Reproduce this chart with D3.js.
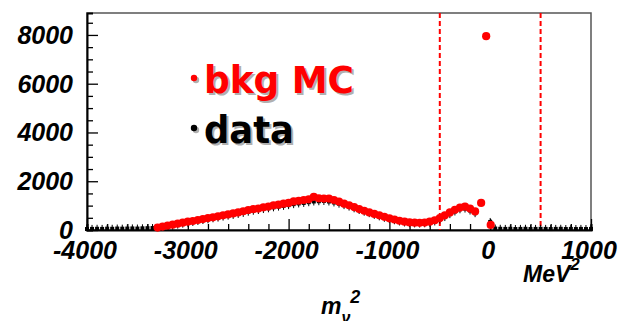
<!DOCTYPE html>
<html>
<head>
<meta charset="utf-8">
<script src="https://cdn.jsdelivr.net/npm/d3@7"></script>
<style>
  html, body { margin: 0; padding: 0; background: #fff; overflow: hidden; }
  svg { display: block; }
</style>
</head>
<body>
<svg id="chart" width="623" height="321"></svg>
<script>
// Missing-mass-squared distribution, bin width 50 MeV^2
const binStep = 50;

// Background Monte Carlo (red), bins from -3300 to -150
const mcStart = -3300;
const mcValues = [
  100, 140, 180, 220, 260, 300, 340, 370, 410, 450,
  490, 520, 560, 600, 640, 680, 720, 770, 820, 860,
  880, 930, 960, 1010, 1040, 1080, 1110, 1170, 1200, 1230,
  1260, 1360, 1300, 1290, 1290, 1230, 1160, 1080, 1010, 940,
  860, 790, 720, 660, 600, 540, 480, 430, 380, 340,
  310, 300, 295, 305, 340, 400, 490, 600, 720, 830,
  920, 960, 880, 760
];
// Isolated MC bins near the signal region
const mcPeakX = [-90, -40, 5];
const mcPeakY = [1110, 7950, 210];

// Data (black), bins from -4000 to -150
const dataStart = -4000;
const dataValues = [
  40, 45, 50, 45, 55, 50, 60, 55, 60, 65, 60, 70, 75, 80,
  70, 100, 140, 180, 220, 260, 300, 330, 370, 410,
  440, 480, 510, 550, 590, 620, 660, 700, 750, 790,
  820, 860, 890, 930, 960, 990, 1020, 1060, 1090, 1110,
  1140, 1170, 1180, 1190, 1170, 1130, 1080, 1020, 960, 890,
  820, 750, 690, 620, 560, 500, 450, 400, 350, 310,
  280, 270, 265, 275, 300, 350, 430, 530, 650, 760,
  850, 880, 800, 690
];
// Data around and above zero
const dataHighX = [0, 50, 100, 150, 200, 250, 300, 350, 400, 450, 500, 550, 600, 650, 700, 750, 800, 850, 900, 950, 1000];
const dataHighY = [330, 60, 50, 45, 50, 40, 45, 50, 40, 45, 50, 45, 40, 45, 50, 40, 45, 40, 45, 40, 45];

// Signal window edges
const cutLines = [-500, 500];

const xTicks = [-4000, -3000, -2000, -1000, 0, 1000];
const yTicks = [0, 2000, 4000, 6000, 8000];

const svg = d3.select("#chart");
const x = d3.scaleLinear().domain([-4000, 1000]).range([87, 591]);
const y = d3.scaleLinear().domain([0, 8900]).range([230, 13]);

const mc = mcValues.map((v, i) => ({ x: mcStart + i * binStep, y: v }))
  .concat(mcPeakX.map((v, i) => ({ x: v, y: mcPeakY[i] })));
const data = dataValues.map((v, i) => ({ x: dataStart + i * binStep, y: v }))
  .concat(dataHighX.map((v, i) => ({ x: v, y: dataHighY[i] })));

// Frame
svg.append("rect")
  .attr("x", x.range()[0]).attr("y", y.range()[1])
  .attr("width", x.range()[1] - x.range()[0])
  .attr("height", y.range()[0] - y.range()[1])
  .attr("fill", "none").attr("stroke", "#555").attr("stroke-width", 1.5);

// Y axis with inward ticks
const yAxisG = svg.append("g").attr("transform", `translate(${x.range()[0]},0)`);
yAxisG.call(d3.axisRight(y).tickValues(d3.range(0, 8901, 500)).tickSize(6).tickFormat(""));
yAxisG.call(g => g.selectAll(".tick line")
  .attr("x2", d => d % 2000 === 0 ? 11 : 6)
  .attr("stroke", "#000").attr("stroke-width", 1.3));
yAxisG.select(".domain").attr("stroke", "#000").attr("stroke-width", 2);

yTicks.forEach(t => {
  svg.append("text")
    .attr("x", 73).attr("y", y(t) + 9)
    .attr("text-anchor", "end")
    .attr("font-family", "Liberation Sans, Arial, sans-serif")
    .attr("font-weight", "bold").attr("font-style", "italic")
    .attr("font-size", 25).attr("fill", "#000")
    .text(t);
});

// X axis with upward ticks
const xAxisG = svg.append("g").attr("transform", `translate(0,${y.range()[0]})`);
xAxisG.call(d3.axisTop(x).tickValues(d3.range(-4000, 1001, 200)).tickSize(6).tickFormat(""));
xAxisG.call(g => g.selectAll(".tick line")
  .attr("y2", d => d % 1000 === 0 ? -11 : -6)
  .attr("stroke", "#000").attr("stroke-width", 1.3));
xAxisG.select(".domain").attr("stroke", "#000").attr("stroke-width", 2);

xTicks.forEach(t => {
  svg.append("text")
    .attr("x", x(t) - 2).attr("y", 259)
    .attr("text-anchor", "middle")
    .attr("font-family", "Liberation Sans, Arial, sans-serif")
    .attr("font-weight", "bold").attr("font-style", "italic")
    .attr("font-size", 25).attr("fill", "#000")
    .text(t);
});

// Unit and axis title
const unit = svg.append("text")
  .attr("x", 523).attr("y", 282)
  .attr("font-family", "Liberation Sans, Arial, sans-serif")
  .attr("font-weight", "bold").attr("font-style", "italic")
  .attr("font-size", 23).attr("fill", "#000");
unit.append("tspan").text("MeV");
unit.append("tspan").attr("dy", -12).attr("font-size", 17).text("2");

const title = svg.append("text")
  .attr("x", 321).attr("y", 314)
  .attr("font-family", "Liberation Sans, Arial, sans-serif")
  .attr("font-weight", "bold").attr("font-style", "italic")
  .attr("font-size", 23).attr("fill", "#000");
title.append("tspan").text("m");
title.append("tspan").attr("dy", 9).attr("font-size", 16).text("ν");
title.append("tspan").attr("dy", -20).attr("font-size", 18).text("2");

// Signal window
cutLines.forEach(c => {
  svg.append("line")
    .attr("x1", x(c)).attr("x2", x(c))
    .attr("y1", y.range()[1]).attr("y2", y.range()[0])
    .attr("stroke", "#f00").attr("stroke-width", 2)
    .attr("stroke-dasharray", "5,3");
});

// Data points
svg.append("g").selectAll("rect").data(data).join("rect")
  .attr("x", d => x(d.x) - 2).attr("y", d => y(d.y) - 2)
  .attr("width", 4).attr("height", 4)
  .attr("fill", "#000");
svg.append("g").selectAll("line").data(data).join("line")
  .attr("x1", d => x(d.x)).attr("x2", d => x(d.x))
  .attr("y1", d => y(d.y) - 4).attr("y2", d => Math.min(y(d.y) + 4, y(0)))
  .attr("stroke", "#000").attr("stroke-width", 1);

// Background MC points
svg.append("g").selectAll("circle").data(mc).join("circle")
  .attr("cx", d => x(d.x)).attr("cy", d => y(d.y))
  .attr("r", 4.1).attr("fill", "#f00");

// Legend with drop shadow
function legendEntry(tx, ty, label, color, width) {
  const g = svg.append("g");
  [[2, 2, "#b0b0b0"], [0, 0, color]].forEach(([dx, dy, c]) => {
    g.append("circle").attr("cx", 194 + dx).attr("cy", ty - 15 + dy).attr("r", 3.2).attr("fill", c);
    g.append("text")
      .attr("x", tx + dx).attr("y", ty + dy)
      .attr("font-family", "DejaVu Sans, sans-serif")
      .attr("font-weight", "bold").attr("font-size", 37)
      .attr("textLength", width).attr("lengthAdjust", "spacingAndGlyphs")
      .attr("fill", c).text(label);
  });
}
legendEntry(204, 93, "bkg MC", "#f00", 150);
legendEntry(204, 143, "data", "#000", 90);
</script>
</body>
</html>
